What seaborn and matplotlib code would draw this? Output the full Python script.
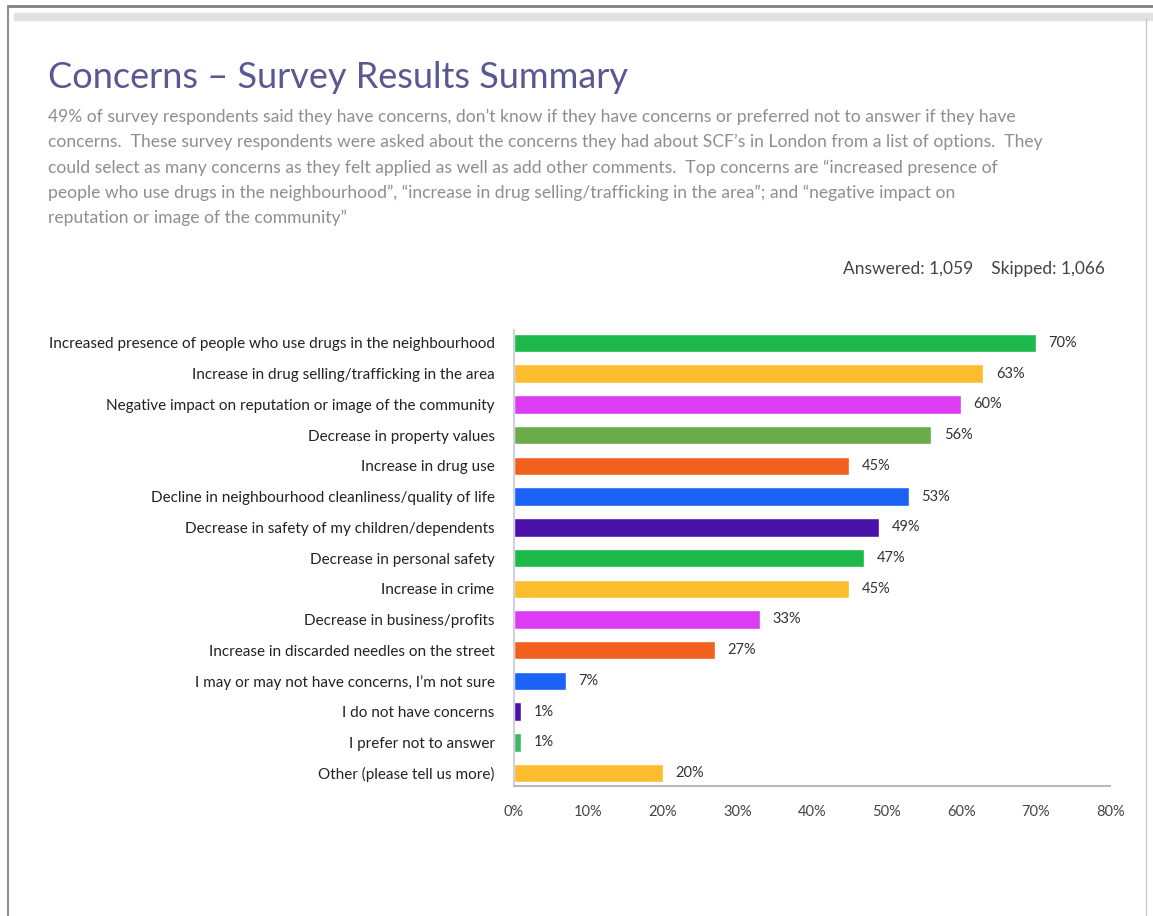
import matplotlib
matplotlib.use("Agg")
import matplotlib.pyplot as plt
import seaborn as sns
import pandas as pd
from matplotlib.patches import Rectangle
from matplotlib.lines import Line2D

categories = [
    "Increased presence of people who use drugs in the neighbourhood",
    "Increase in drug selling/trafficking in the area",
    "Negative impact on reputation or image of the community",
    "Decrease in property values",
    "Increase in drug use",
    "Decline in neighbourhood cleanliness/quality of life",
    "Decrease in safety of my children/dependents",
    "Decrease in personal safety",
    "Increase in crime",
    "Decrease in business/profits",
    "Increase in discarded needles on the street",
    "I may or may not have concerns, I’m not sure",
    "I do not have concerns",
    "I prefer not to answer",
    "Other (please tell us more)",
]
values = [70, 63, 60, 56, 45, 53, 49, 47, 45, 33, 27, 7, 1, 1, 20]
colors = ["#1db94a", "#fbbc2e", "#dc3cf2", "#6aab4a", "#f1611d", "#1b63f6", "#4a12a8",
          "#1db94a", "#fbbc2e", "#dc3cf2", "#f1611d", "#1b63f6", "#4a12a8", "#3cb86a", "#fbbc2e"]
xticks = [0, 10, 20, 30, 40, 50, 60, 70, 80]
xticklabels = ["0%", "10%", "20%", "30%", "40%", "50%", "60%", "70%", "80%"]

title = "Concerns – Survey Results Summary"
paragraph = [
    "49% of survey respondents said they have concerns, don’t know if they have concerns or preferred not to answer if they have",
    "concerns.  These survey respondents were asked about the concerns they had about SCF’s in London from a list of options.  They",
    "could select as many concerns as they felt applied as well as add other comments.  Top concerns are “increased presence of",
    "people who use drugs in the neighbourhood”, “increase in drug selling/trafficking in the area”; and “negative impact on",
    "reputation or image of the community”",
]
counts_text = "Answered: 1,059    Skipped: 1,066"

sns.set_theme(style="white")
plt.rcParams["font.family"] = ["Lato", "DejaVu Sans"]

df = pd.DataFrame({"category": categories, "value": values})

fig = plt.figure(figsize=(11.53, 9.16), dpi=100)
ax = fig.add_axes([0.4458, 0.1419, 0.5170, 0.4978])

sns.barplot(data=df, y="category", x="value", hue="category", palette=colors,
            order=categories, hue_order=categories, legend=False, width=0.6,
            saturation=1, ax=ax)

for c in ax.containers:
    ax.bar_label(c, labels=[f"{v:g}%" for v in c.datavalues], padding=9,
                 fontsize=10.5, color="#333333")

ax.set_xlim(0, 80)
ax.set_ylim(14.42, -0.42)
ax.set_xticks(xticks)
ax.set_xticklabels(xticklabels)
ax.tick_params(axis="x", length=0, labelsize=10.5, labelcolor="#444444", pad=14)
ax.tick_params(axis="y", length=0, labelsize=11, labelcolor="#222222", pad=14)
ax.set_xlabel("")
ax.set_ylabel("")
for s in ["top", "right"]:
    ax.spines[s].set_visible(False)
ax.spines["left"].set_color("#c8c8d8")
ax.spines["left"].set_linewidth(1.2)
ax.spines["bottom"].set_color("#b8b8c0")
ax.spines["bottom"].set_linewidth(1.5)

# slide frame
fig.add_artist(Line2D([8/1153, 1], [1 - 6/916, 1 - 6/916], color="#808080", lw=2, transform=fig.transFigure))
fig.add_artist(Line2D([8/1153, 8/1153], [0, 1 - 6/916], color="#909090", lw=1.5, transform=fig.transFigure))
fig.add_artist(Line2D([1146/1153, 1146/1153], [0, 1 - 18/916], color="#c8c8d0", lw=1, transform=fig.transFigure))
fig.add_artist(Rectangle((14/1153, 1 - 20/916), 1 - 14/1153, 7/916, color="#e2e2e2",
                         transform=fig.transFigure, zorder=0))

fig.text(48/1153, 1 - 78/916, title, fontsize=26, color="#5a5890", va="center", ha="left")
fig.text(48/1153, 1 - 109/916, "\n".join(paragraph), fontsize=12.6, color="#8e8e8e",
         va="top", ha="left", linespacing=1.65)
fig.text(1105/1153, 1 - 269/916, counts_text, fontsize=12.5, color="#444444", va="center", ha="right")

fig.savefig("out.png", dpi=100, facecolor="white")
